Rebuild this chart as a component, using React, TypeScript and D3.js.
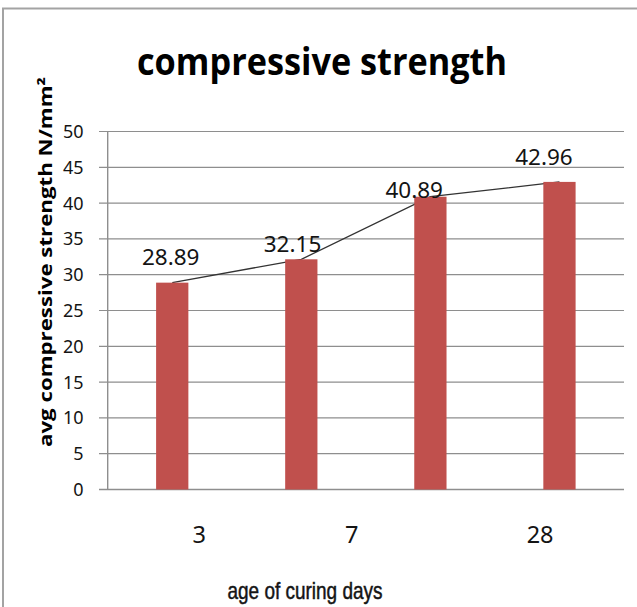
import React from "react";
import * as d3 from "d3";

// Average compressive strength at each curing age
const series = ["s1", "s2", "s3", "s4"];
const strength = [28.89, 32.15, 40.89, 42.96];
const ageLabels = ["3", "7", "28"];
const yTicks = [0, 5, 10, 15, 20, 25, 30, 35, 40, 45, 50];

const title = "compressive strength";
const yTitle = "avg compressive strength N/mm\u00B2";
const xTitle = "age of curing days";

const W = 637;
const H = 607;
const plot = { left: 107.7, right: 624, top: 131.5, bottom: 489.5 };

// Layout of the hand-placed annotations (in px relative to bar centre / top)
const valueLabelOffsets = [
  [-1.5, -25.6],
  [-8.8, -15.3],
  [-16.2, -6.7],
  [-15.5, -24.6],
];
// Category-label placement along the axis, in band units
const ageLabelSlots = [0.71, 1.89, 3.35];

export default function App() {
  const x = d3
    .scaleBand<string>()
    .domain(series)
    .range([plot.left, plot.right])
    .paddingInner(0.75)
    .paddingOuter(0.375);
  const slot = d3.scaleLinear().domain([0, series.length]).range([plot.left, plot.right]);
  const y = d3.scaleLinear().domain([0, 50]).range([plot.bottom, plot.top]);

  const cx = (i: number) => (x(series[i]) as number) + x.bandwidth() / 2;
  const line = d3
    .line<number>()
    .x((_, i) => cx(i))
    .y((d) => y(d));

  const grid = "#8e8e8e";
  const text = "#141414";
  const tickFs = 18;
  const valueFs = 22.5;
  const ageFs = 23.5;

  return (
    <svg
      width={W}
      height={H}
      style={{ position: "absolute", left: 0, top: 0, background: "#fff" }}
    >
      <rect x={0} y={0} width={W} height={H} fill="#fff" />
      {/* chart frame */}
      <path d={`M3,${H + 5} V8.5 H${W + 5}`} fill="none" stroke="#a3a3a3" strokeWidth={2} />

      <text
        x={322}
        y={74.5}
        textAnchor="middle"
        fontFamily="'Open Sans', 'Noto Sans', sans-serif"
        fontWeight={700}
        fontSize={38}
        textLength={370}
        lengthAdjust="spacingAndGlyphs"
        fill="#000"
      >
        {title}
      </text>

      <text
        transform={`translate(52,262) rotate(-90)`}
        textAnchor="middle"
        fontFamily="'Open Sans', 'Noto Sans', sans-serif"
        fontWeight={700}
        fontSize={18}
        textLength={370}
        lengthAdjust="spacingAndGlyphs"
        fill="#000"
      >
        {yTitle}
      </text>

      {/* gridlines and y ticks */}
      {yTicks.map((t) => (
        <g key={t}>
          <line
            x1={99}
            x2={plot.right}
            y1={y(t)}
            y2={y(t)}
            stroke={grid}
            strokeWidth={t === 0 ? 1.6 : 1.2}
          />
          <text
            x={83.5}
            y={y(t) + tickFs * 0.36}
            textAnchor="end"
            fontFamily="'Noto Sans', sans-serif"
            fontSize={tickFs}
            fill={text}
          >
            {t}
          </text>
        </g>
      ))}
      <line x1={plot.left} x2={plot.left} y1={plot.top} y2={plot.bottom} stroke={grid} strokeWidth={1.4} />

      {/* trend line sits beneath the bars */}
      <path d={line(strength) ?? ""} fill="none" stroke="#333" strokeWidth={1.3} />

      {strength.map((v, i) => (
        <rect
          key={series[i]}
          x={x(series[i])}
          y={y(v)}
          width={x.bandwidth()}
          height={y(0) - y(v)}
          fill="#C0504D"
        />
      ))}

      {strength.map((v, i) => (
        <text
          key={"v" + i}
          x={cx(i) + valueLabelOffsets[i][0]}
          y={y(v) + valueLabelOffsets[i][1] + valueFs * 0.36}
          textAnchor="middle"
          fontFamily="'Noto Sans', sans-serif"
          fontSize={valueFs}
          fill={text}
        >
          {v.toFixed(2)}
        </text>
      ))}

      {ageLabels.map((a, i) => (
        <text
          key={a}
          x={slot(ageLabelSlots[i])}
          y={535 + ageFs * 0.36}
          textAnchor="middle"
          fontFamily="'Noto Sans', sans-serif"
          fontSize={ageFs}
          fill={text}
        >
          {a}
        </text>
      ))}

      <text
        x={227.5}
        y={598.5}
        fontFamily="'Liberation Sans Narrow', 'Liberation Sans', sans-serif"
        fontSize={24}
        textLength={155}
        lengthAdjust="spacingAndGlyphs"
        fill={text}
        stroke={text}
        strokeWidth={0.5}
      >
        {xTitle}
      </text>
    </svg>
  );
}
